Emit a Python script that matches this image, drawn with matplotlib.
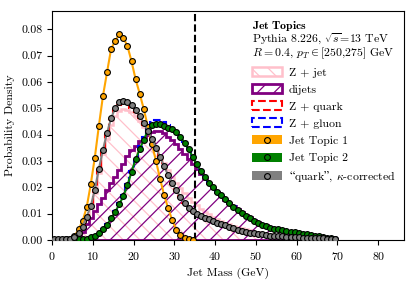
import numpy as np
import matplotlib
matplotlib.use("Agg")
import matplotlib.pyplot as plt
from matplotlib.patches import Patch
from matplotlib.lines import Line2D

plt.rcParams['font.family'] = ['cmr10', 'DejaVu Serif']
plt.rcParams['mathtext.fontset'] = 'cm'
plt.rcParams['axes.formatter.use_mathtext'] = True
plt.rcParams['hatch.linewidth'] = 0.9

# 1 GeV bins from 0 to 70
edges = np.arange(0, 71, 1)
centers = edges[:-1] + 0.5

z_jet = [0.0002, 0.0002, 0.0002, 0.0002, 0.0003, 0.0008, 0.0020, 0.0045, 0.0080, 0.0120,
         0.0180, 0.0255, 0.0325, 0.0385, 0.0435, 0.0470, 0.0490, 0.0497, 0.0495, 0.0485,
         0.0470, 0.0452, 0.0430, 0.0405, 0.0378, 0.0350, 0.0320, 0.0292, 0.0265, 0.0240,
         0.0217, 0.0196, 0.0177, 0.0160, 0.0145, 0.0131, 0.0119, 0.0108, 0.0098, 0.0089,
         0.0081, 0.0073, 0.0066, 0.0060, 0.0054, 0.0049, 0.0044, 0.0040, 0.0036, 0.0032,
         0.0029, 0.0026, 0.0024, 0.0022, 0.0020, 0.0018, 0.0016, 0.0015, 0.0013, 0.0012,
         0.0011, 0.0010, 0.0009, 0.0008, 0.0007, 0.0006, 0.0005, 0.0005, 0.0004, 0.0003]

dijets = [0.0, 0.0, 0.0, 0.0, 0.0001, 0.0003, 0.0010, 0.0030, 0.0060, 0.0085,
          0.0110, 0.0135, 0.0160, 0.0190, 0.0215, 0.0240, 0.0265, 0.0290, 0.0320, 0.0340,
          0.0358, 0.0375, 0.0390, 0.0400, 0.0408, 0.0412, 0.0413, 0.0405, 0.0392, 0.0378,
          0.0363, 0.0345, 0.0327, 0.0308, 0.0288, 0.0268, 0.0250, 0.0232, 0.0215, 0.0198,
          0.0182, 0.0167, 0.0153, 0.0140, 0.0128, 0.0116, 0.0105, 0.0095, 0.0086, 0.0077,
          0.0069, 0.0062, 0.0055, 0.0049, 0.0043, 0.0038, 0.0033, 0.0029, 0.0025, 0.0022,
          0.0019, 0.0017, 0.0015, 0.0013, 0.0011, 0.0009, 0.0007, 0.0006, 0.0005, 0.0003]

z_quark = [0.0002, 0.0002, 0.0002, 0.0003, 0.0004, 0.0010, 0.0024, 0.0048, 0.0086, 0.0127,
           0.0188, 0.0266, 0.0338, 0.0400, 0.0455, 0.0492, 0.0512, 0.0518, 0.0515, 0.0502,
           0.0484, 0.0462, 0.0437, 0.0408, 0.0378, 0.0345, 0.0312, 0.0278, 0.0244, 0.0214,
           0.0187, 0.0162, 0.0140, 0.0121, 0.0106, 0.0095, 0.0088, 0.0082, 0.0076, 0.0070,
           0.0064, 0.0058, 0.0053, 0.0048, 0.0043, 0.0039, 0.0035, 0.0031, 0.0028, 0.0025,
           0.0023, 0.0021, 0.0019, 0.0017, 0.0016, 0.0015, 0.0014, 0.0013, 0.0012, 0.0011,
           0.0010, 0.0009, 0.0009, 0.0008, 0.0007, 0.0007, 0.0006, 0.0005, 0.0005, 0.0004]

z_gluon = [0.0001, 0.0001, 0.0001, 0.0001, 0.0001, 0.0001, 0.0002, 0.0003, 0.0005, 0.0010,
           0.0017, 0.0028, 0.0042, 0.0060, 0.0085, 0.0110, 0.0140, 0.0172, 0.0213, 0.0263,
           0.0312, 0.0355, 0.0392, 0.0425, 0.0447, 0.0455, 0.0455, 0.0446, 0.0436, 0.0426,
           0.0412, 0.0395, 0.0373, 0.0347, 0.0318, 0.0290, 0.0264, 0.0240, 0.0219, 0.0201,
           0.0185, 0.0170, 0.0155, 0.0141, 0.0128, 0.0115, 0.0103, 0.0092, 0.0083, 0.0074,
           0.0066, 0.0059, 0.0053, 0.0048, 0.0044, 0.0041, 0.0038, 0.0035, 0.0032, 0.0030,
           0.0027, 0.0025, 0.0022, 0.0020, 0.0017, 0.0015, 0.0012, 0.0010, 0.0008, 0.0006]

topic1_x = centers[:35]
topic1 = [0.0000, 0.0000, 0.0001, 0.0002, 0.0005, 0.0015, 0.0040, 0.0072, 0.0124, 0.0211,
          0.0313, 0.0434, 0.0547, 0.0637, 0.0726, 0.0755, 0.0783, 0.0768, 0.0736, 0.0678,
          0.0610, 0.0556, 0.0497, 0.0430, 0.0364, 0.0300, 0.0232, 0.0170, 0.0120, 0.0074,
          0.0039, 0.0019, 0.0009, 0.0004, 0.0001]

topic2 = [0.0001, 0.0001, 0.0001, 0.0001, 0.0001, 0.0001, 0.0002, 0.0003, 0.0005, 0.0010,
          0.0017, 0.0027, 0.0040, 0.0058, 0.0082, 0.0107, 0.0135, 0.0167, 0.0208, 0.0258,
          0.0306, 0.0345, 0.0380, 0.0415, 0.0437, 0.0442, 0.0440, 0.0433, 0.0426, 0.0420,
          0.0408, 0.0392, 0.0370, 0.0345, 0.0315, 0.0288, 0.0262, 0.0238, 0.0218, 0.0200,
          0.0184, 0.0169, 0.0154, 0.0140, 0.0127, 0.0114, 0.0102, 0.0091, 0.0082, 0.0073,
          0.0065, 0.0058, 0.0052, 0.0047, 0.0043, 0.0040, 0.0037, 0.0034, 0.0031, 0.0029,
          0.0026, 0.0024, 0.0021, 0.0019, 0.0016, 0.0014, 0.0011, 0.0009, 0.0007, 0.0005]

quark_kappa = [0.0003, 0.0003, 0.0003, 0.0003, 0.0004, 0.0010, 0.0025, 0.0050, 0.0088, 0.0128,
               0.0190, 0.0270, 0.0343, 0.0406, 0.0463, 0.0500, 0.0522, 0.0528, 0.0525, 0.0512,
               0.0493, 0.0470, 0.0445, 0.0415, 0.0385, 0.0350, 0.0315, 0.0280, 0.0245, 0.0215,
               0.0188, 0.0163, 0.0140, 0.0122, 0.0110, 0.0100, 0.0092, 0.0085, 0.0078, 0.0072,
               0.0066, 0.0060, 0.0055, 0.0049, 0.0044, 0.0039, 0.0035, 0.0031, 0.0028, 0.0025,
               0.0023, 0.0021, 0.0019, 0.0017, 0.0016, 0.0015, 0.0014, 0.0013, 0.0012, 0.0011,
               0.0010, 0.0009, 0.0009, 0.0008, 0.0007, 0.0007, 0.0006, 0.0005, 0.0005, 0.0004]

fig = plt.figure(figsize=(4.16, 2.83), dpi=100)
ax = fig.add_axes([0.125, 0.152, 0.846, 0.809])

ax.hist(centers, bins=edges, weights=z_jet, histtype='stepfilled', facecolor='none',
        edgecolor='pink', hatch='\\\\', lw=1.8, label='Z + jet', zorder=1)
ax.hist(centers, bins=edges, weights=dijets, histtype='stepfilled', facecolor='none',
        edgecolor='purple', hatch='//', lw=2.0, label='dijets', zorder=1.1)
ax.hist(centers, bins=edges, weights=z_quark, histtype='step', color='red', ls='--',
        lw=1.5, label='Z + quark', zorder=1.2)
ax.hist(centers, bins=edges, weights=z_gluon, histtype='step', color='blue', ls='--',
        lw=1.5, label='Z + gluon', zorder=1.2)

ax.axvline(35, color='black', ls=(0, (3.5, 1.5)), lw=1.5, zorder=1.5)

mk = dict(marker='o', ms=4.2, mec='black', mew=0.8, lw=1.5)
ax.plot(topic1_x, topic1, color='orange', mfc='orange', zorder=3, **mk)
ax.plot(centers, topic2, color='green', mfc='green', zorder=3.1, **mk)
ax.plot(centers, quark_kappa, color='gray', mfc='gray', zorder=3.2, **mk)

ax.set_xlim(0, 86.3)
ax.set_ylim(0, 0.0869)
ax.set_xticks(np.arange(0, 81, 10))
ax.set_yticks(np.arange(0, 0.081, 0.01))
ax.yaxis.set_major_formatter(matplotlib.ticker.FormatStrFormatter('%.2f'))
ax.tick_params(labelsize=8.5, length=3.5)
ax.set_xlabel('Jet Mass (GeV)', fontsize=8.5)
ax.set_ylabel('Probability Density', fontsize=8.5)

handles, labels = ax.get_legend_handles_labels()
hist_h = handles[:4]
hist_l = labels[:4]

def topic_handle(c):
    return (Patch(facecolor=c, edgecolor='none'),
            Line2D([], [], marker='o', ls='', ms=4.2, mfc=c, mec='black', mew=0.8))

extra_h = [topic_handle('orange'), topic_handle('green'), topic_handle('gray')]
extra_l = ['Jet Topic 1', 'Jet Topic 2', '$\\mathrm{\u201c}$quark$\\mathrm{\u201d}$, $\\kappa$-corrected']

title = ('$\\mathbf{Jet\\ Topics}$\nPythia 8.226, $\\sqrt{s}$=13 TeV\n'
         '$R = 0.4$, $p_T \\in$[250,275] GeV')
leg = ax.legend(hist_h + extra_h, hist_l + extra_l, loc='upper right', frameon=False,
                fontsize=8.5, title=title, title_fontsize=8.5, alignment='left',
                handlelength=2.5, handleheight=0.8, labelspacing=0.55,
                handletextpad=0.6, borderaxespad=0.3)
leg.get_title().set_linespacing(0.85)

fig.savefig('out.png', dpi=100)
